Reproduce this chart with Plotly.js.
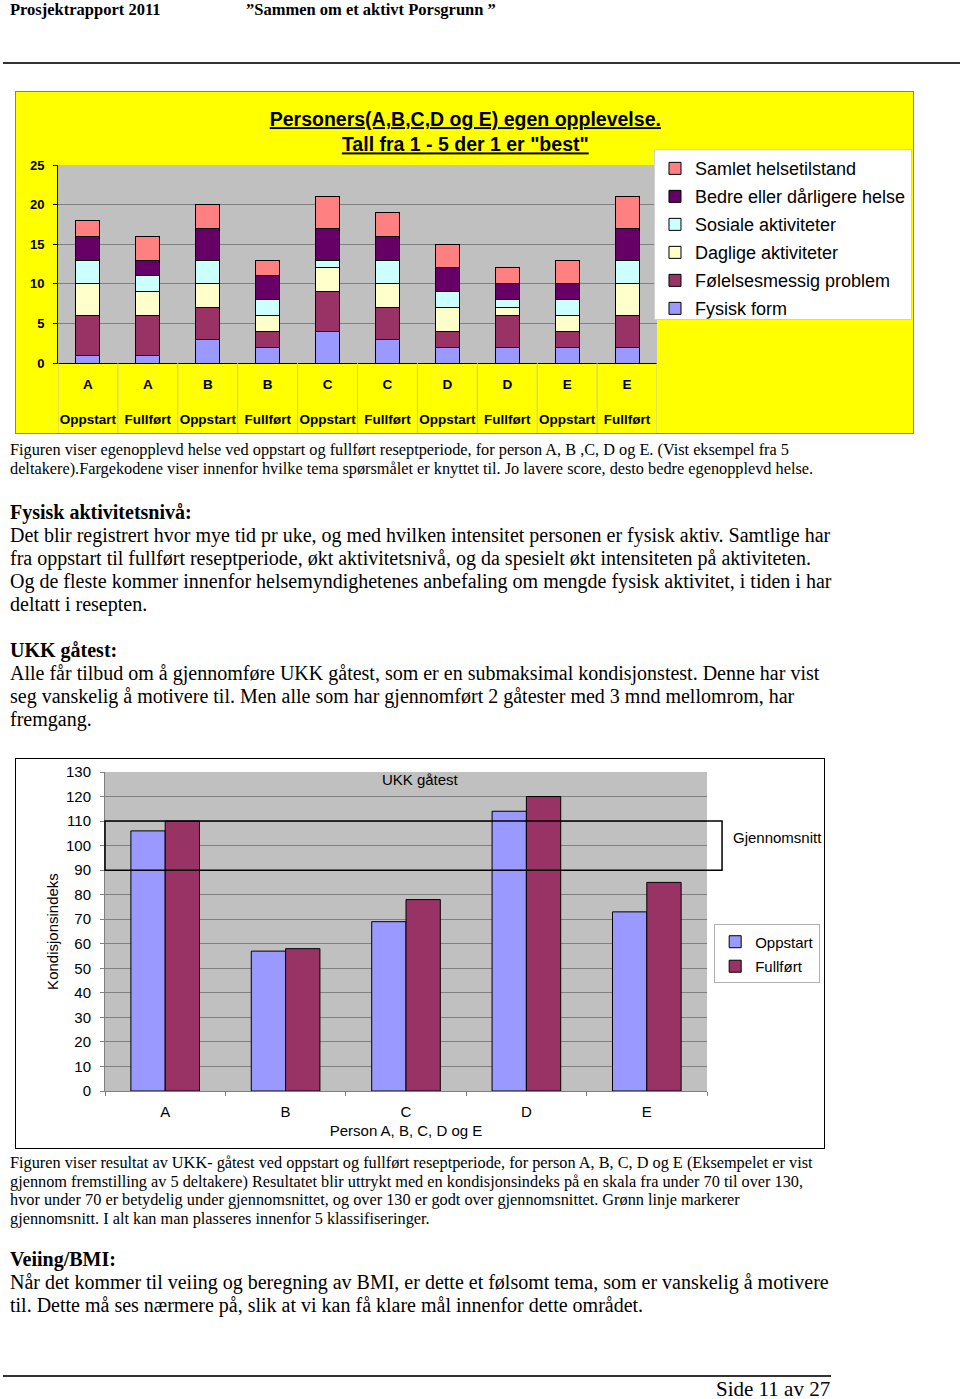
<!DOCTYPE html>
<html>
<head>
<meta charset="utf-8">
<script src="https://cdn.plot.ly/plotly-3.0.1.min.js"></script>
<style>
  body { margin: 0; background: #fff; width: 960px; height: 1399px; position: relative; overflow: hidden; }
  .t { position: absolute; left: 10px; font-family: 'Liberation Serif', 'Times New Roman', serif; color: #000; white-space: nowrap; }
  .body { font-size: 20px; line-height: 23px; }
  .cap { font-size: 16.3px; line-height: 19px; }
  .rule { position: absolute; background: #333; }
  #helse { position: absolute; left: 16px; top: 92px; outline: 1.5px solid #8a8a3a; }
  #ukk { position: absolute; left: 16px; top: 759px; outline: 1.5px solid #000; }
</style>
</head>
<body>
<div class="t" style="top:0px;font-size:16.5px;font-weight:bold;">Prosjektrapport 2011</div>
<div class="t" style="top:0px;left:246px;font-size:16.5px;font-weight:bold;">”Sammen om et aktivt Porsgrunn ”</div>
<div class="rule" style="left:3px;top:62px;width:957px;height:1.5px;"></div>

<div id="helse"></div>

<div class="t cap" style="top:440px;">Figuren viser egenopplevd helse ved oppstart og fullført reseptperiode, for person A, B ,C, D og E. (Vist eksempel fra 5<br>deltakere).Fargekodene viser innenfor hvilke tema spørsmålet er knyttet til. Jo lavere score, desto bedre egenopplevd helse.</div>

<div class="t body" style="top:501px;"><b>Fysisk aktivitetsnivå:</b><br>Det blir registrert hvor mye tid pr uke, og med hvilken intensitet personen er fysisk aktiv. Samtlige har<br>fra oppstart til fullført reseptperiode, økt aktivitetsnivå, og da spesielt økt intensiteten på aktiviteten.<br>Og de fleste kommer innenfor helsemyndighetenes anbefaling om mengde fysisk aktivitet, i tiden i har<br>deltatt i resepten.</div>

<div class="t body" style="top:639px;"><b>UKK gåtest:</b><br>Alle får tilbud om å gjennomføre UKK gåtest, som er en submaksimal kondisjonstest. Denne har vist<br>seg vanskelig å motivere til. Men alle som har gjennomført 2 gåtester med 3 mnd mellomrom, har<br>fremgang.</div>

<div id="ukk"></div>

<div class="t cap" style="top:1154px;line-height:18.7px;">Figuren viser resultat av UKK- gåtest ved oppstart og fullført reseptperiode, for person A, B, C, D og E (Eksempelet er vist<br>gjennom fremstilling av 5 deltakere) Resultatet blir uttrykt med en kondisjonsindeks på en skala fra under 70 til over 130,<br>hvor under 70 er betydelig under gjennomsnittet, og over 130 er godt over gjennomsnittet. Grønn linje markerer<br>gjennomsnitt. I alt kan man plasseres innenfor 5 klassifiseringer.</div>

<div class="t body" style="top:1248px;"><b>Veiing/BMI:</b><br>Når det kommer til veiing og beregning av BMI, er dette et følsomt tema, som er vanskelig å motivere<br>til. Dette må ses nærmere på, slik at vi kan få klare mål innenfor dette området.</div>

<div class="rule" style="left:3px;top:1375px;width:828px;height:2px;"></div>
<div class="t" style="top:1377px;left:716px;font-size:21px;">Side 11 av 27</div>

<script>
// chart 1: egen opplevelse, stacked per person and phase
const persons = ['A', 'A', 'B', 'B', 'C', 'C', 'D', 'D', 'E', 'E'];
const phases = ['Oppstart', 'Fullført', 'Oppstart', 'Fullført', 'Oppstart', 'Fullført', 'Oppstart', 'Fullført', 'Oppstart', 'Fullført'];

const fysiskForm = [1, 1, 3, 2, 4, 3, 2, 2, 2, 2];
const folelsesmessig = [5, 5, 4, 2, 5, 4, 2, 4, 2, 4];
const daglige = [4, 3, 3, 2, 3, 3, 3, 1, 2, 4];
const sosiale = [3, 2, 3, 2, 1, 3, 2, 1, 2, 3];
const bedreHelse = [3, 2, 4, 3, 4, 3, 3, 2, 2, 4];
const samletHelse = [2, 3, 3, 2, 4, 3, 3, 2, 3, 4];

// chart 2: UKK gåtest
const ukkPersons = ['A', 'B', 'C', 'D', 'E'];
const ukkOppstart = [106, 57, 69, 114, 73];
const ukkFullfort = [110, 58, 78, 120, 85];
const snittLav = 90;
const snittHoy = 110;

const idx = persons.map((p, i) => i);

const stackSeries = [
  ['Fysisk form', fysiskForm, '#9999FF'],
  ['Følelsesmessig problem', folelsesmessig, '#993366'],
  ['Daglige aktiviteter', daglige, '#FFFFCC'],
  ['Sosiale aktiviteter', sosiale, '#CCFFFF'],
  ['Bedre eller dårligere helse', bedreHelse, '#660066'],
  ['Samlet helsetilstand', samletHelse, '#FF8080']
];

// legend lists the top segment first
const helseData = stackSeries.map((s, i) => ({
  type: 'bar',
  name: s[0],
  x: idx,
  y: s[1],
  legendgroup: s[0],
  legendrank: 1000 + stackSeries.length - i,
  marker: { color: s[2], line: { color: '#000', width: 1 } },
  hoverinfo: 'name+y'
}));

const dividers = persons.concat(['']).map((p, i) => ({
  type: 'line', xref: 'x', yref: 'paper',
  x0: i - 0.5, x1: i - 0.5, y0: -0.355, y1: 0,
  line: { color: '#c8c890', width: 1 }
}));

const helseLayout = {
  width: 897, height: 341,
  margin: { l: 42, r: 256, t: 73, b: 70, autoexpand: false },
  paper_bgcolor: '#FFFF00',
  plot_bgcolor: '#C0C0C0',
  barmode: 'stack',
  bargap: 0.6,
  font: { family: 'Arial, Liberation Sans, sans-serif', color: '#000' },
  title: {
    text: '<span style="text-decoration:underline">Personers(A,B,C,D og E) egen opplevelse.</span><br><span style="text-decoration:underline">Tall fra 1 - 5 der 1 er "best"</span>',
    font: { size: 19.5, color: '#000', weight: 'bold' },
    xref: 'paper', x: 0.68, xanchor: 'center',
    yref: 'container', y: 0.9, yanchor: 'top'
  },
  xaxis: {
    range: [-0.5, 9.5],
    tickvals: idx,
    ticktext: persons.map((p, i) => '<b>' + p + '</b><br><br><b>' + phases[i] + '</b>'),
    tickfont: { size: 13.5 },
    ticks: '',
    ticklabelstandoff: 9,
    showline: true, linecolor: '#000', linewidth: 1,
    showgrid: false, zeroline: false, fixedrange: true
  },
  yaxis: {
    range: [0, 25],
    dtick: 5,
    tickfont: { size: 13, weight: 'bold' },
    ticks: 'outside', ticklen: 4, tickcolor: '#000',
    ticklabelstandoff: 6,
    showline: true, linecolor: '#000', linewidth: 1,
    gridcolor: '#808080', gridwidth: 1,
    zeroline: false, fixedrange: true
  },
  legend: {
    x: 1.4257, xanchor: 'right',
    y: 1.08, yanchor: 'top',
    traceorder: 'grouped',
    tracegroupgap: 1.6,
    bgcolor: '#FFFFFF',
    bordercolor: '#d0d0d0', borderwidth: 1,
    font: { size: 18, color: '#000' }
  },
  shapes: dividers
};

Plotly.newPlot('helse', helseData, helseLayout, { displayModeBar: false, staticPlot: true });

const ukkData = [
  {
    type: 'bar', name: 'Oppstart', x: ukkPersons, y: ukkOppstart, legendgroup: 'o',
    marker: { color: '#9999FF', line: { color: '#000', width: 1 } }
  },
  {
    type: 'bar', name: 'Fullført', x: ukkPersons, y: ukkFullfort, legendgroup: 'f',
    marker: { color: '#993366', line: { color: '#000', width: 1 } }
  }
];

const ukkLayout = {
  width: 808, height: 389,
  margin: { l: 89, r: 117, t: 13, b: 57, autoexpand: false },
  paper_bgcolor: '#FFFFFF',
  plot_bgcolor: '#C0C0C0',
  barmode: 'group',
  bargap: 0.43,
  bargroupgap: 0,
  font: { family: 'Arial, Liberation Sans, sans-serif', color: '#000', size: 15 },
  title: {
    text: 'UKK gåtest',
    font: { size: 15, color: '#000' },
    xref: 'paper', x: 0.523, xanchor: 'center',
    yref: 'container', y: 0.946, yanchor: 'middle'
  },
  xaxis: {
    title: { text: 'Person A, B, C, D og E', font: { size: 15 }, standoff: 6 },
    tickfont: { size: 15 },
    ticks: 'outside', tickson: 'boundaries', ticklen: 4, tickcolor: '#808080',
    ticklabelstandoff: 7,
    showline: true, linecolor: '#808080', linewidth: 1,
    showgrid: false, zeroline: false, fixedrange: true
  },
  yaxis: {
    title: { text: 'Kondisjonsindeks', font: { size: 15 }, standoff: 3 },
    range: [0, 130],
    dtick: 10,
    tickfont: { size: 15 },
    ticks: 'outside', ticklen: 4, tickcolor: '#808080',
    ticklabelstandoff: 6,
    showline: true, linecolor: '#808080', linewidth: 1,
    gridcolor: '#808080', gridwidth: 1,
    zeroline: false, fixedrange: true
  },
  legend: {
    x: 1.188, xanchor: 'right',
    y: 0.522, yanchor: 'top',
    tracegroupgap: 2,
    bgcolor: '#FFFFFF',
    bordercolor: '#b0b0b0', borderwidth: 1,
    font: { size: 15, color: '#000' }
  },
  shapes: [{
    type: 'rect', xref: 'paper', yref: 'y',
    x0: 0, x1: 1.025, y0: snittLav, y1: snittHoy,
    line: { color: '#000', width: 1.5 },
    fillcolor: 'rgba(0,0,0,0)'
  }],
  annotations: [{
    text: 'Gjennomsnitt',
    xref: 'paper', yref: 'y',
    x: 1.04, xanchor: 'left',
    y: (snittLav + snittHoy) / 2 + 3.5, yanchor: 'middle',
    showarrow: false,
    font: { size: 15, color: '#000' }
  }]
};

Plotly.newPlot('ukk', ukkData, ukkLayout, { displayModeBar: false, staticPlot: true });
</script>
</body>
</html>
